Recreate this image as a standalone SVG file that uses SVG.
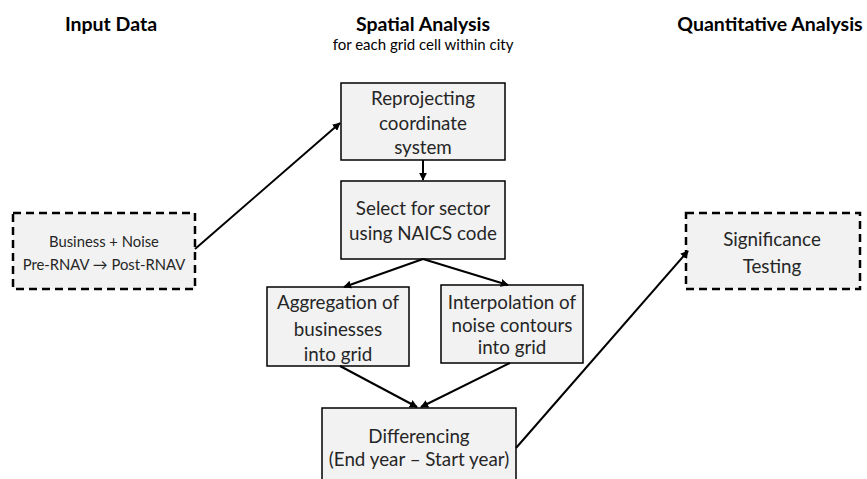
<svg xmlns="http://www.w3.org/2000/svg" width="867" height="479" viewBox="0 0 867 479">
  <style>
    text { font-family: Lato, "Open Sans", "Liberation Sans", sans-serif; fill: #262626; text-anchor: middle; }
    .head { font-weight: bold; font-size: 19.5px; fill: #000; }
    .sub { font-size: 15px; fill: #000; }
    .box { fill: #f2f2f2; stroke: #000; stroke-width: 1.5; }
    .dbox { fill: #f2f2f2; stroke: #000; stroke-width: 2.5; stroke-dasharray: 8 5; }
    .lbl { font-size: 18.8px; }
    .lbl-s { font-size: 14.8px; }
    .conn line { stroke: #000; stroke-width: 2; marker-end: url(#arrow); }
  </style>
  <defs>
    <marker id="arrow" viewBox="0 0 10 10" refX="9" refY="5" markerWidth="4" markerHeight="4" orient="auto" markerUnits="strokeWidth">
      <path d="M0,0 L10,5 L0,10 z" fill="#000"/>
    </marker>
  </defs>

  <!-- column headings -->
  <g id="headings">
    <text class="head" x="111" y="31">Input Data</text>
    <text class="head" x="423" y="31">Spatial Analysis</text>
    <text class="sub" x="423" y="50">for each grid cell within city</text>
    <text class="head" x="770" y="31">Quantitative Analysis</text>
  </g>

  <g id="input">
    <rect class="dbox" x="13" y="213" width="182" height="76"/>
    <text class="lbl-s" x="104" y="247">Business + Noise</text>
    <text class="lbl-s" x="104" y="270">Pre-RNAV → Post-RNAV</text>
  </g>

  <g id="reproject">
    <rect class="box" x="341" y="83" width="164" height="77"/>
    <text class="lbl" x="423" y="105">Reprojecting</text>
    <text class="lbl" x="423" y="130">coordinate</text>
    <text class="lbl" x="423" y="154">system</text>
  </g>

  <g id="select">
    <rect class="box" x="341" y="181" width="164" height="78"/>
    <text class="lbl" x="423" y="215">Select for sector</text>
    <text class="lbl" x="423" y="240">using NAICS code</text>
  </g>

  <g id="aggregation">
    <rect class="box" x="267" y="287" width="142" height="79"/>
    <text class="lbl" x="338" y="309">Aggregation of</text>
    <text class="lbl" x="338" y="336">businesses</text>
    <text class="lbl" x="338" y="361">into grid</text>
  </g>

  <g id="interpolation">
    <rect class="box" x="441" y="285" width="142" height="78"/>
    <text class="lbl" x="512" y="309">Interpolation of</text>
    <text class="lbl" x="512" y="332">noise contours</text>
    <text class="lbl" x="512" y="354">into grid</text>
  </g>

  <g id="differencing">
    <rect class="box" x="322" y="408" width="194" height="80"/>
    <text class="lbl" x="419" y="443">Differencing</text>
    <text class="lbl" x="419" y="466">(End year – Start year)</text>
  </g>

  <g id="significance">
    <rect class="dbox" x="686" y="213" width="174" height="76"/>
    <text class="lbl" x="772" y="246">Significance</text>
    <text class="lbl" x="772" y="273">Testing</text>
  </g>

  <g class="conn" id="connectors">
    <line x1="195" y1="249" x2="340" y2="123"/>
    <line x1="423" y1="160" x2="423" y2="180"/>
    <line x1="423" y1="259" x2="344" y2="287"/>
    <line x1="423" y1="259" x2="508" y2="285"/>
    <line x1="340" y1="366" x2="417" y2="407"/>
    <line x1="510" y1="363" x2="421" y2="407"/>
    <line x1="516" y1="448" x2="688" y2="251"/>
  </g>
</svg>
